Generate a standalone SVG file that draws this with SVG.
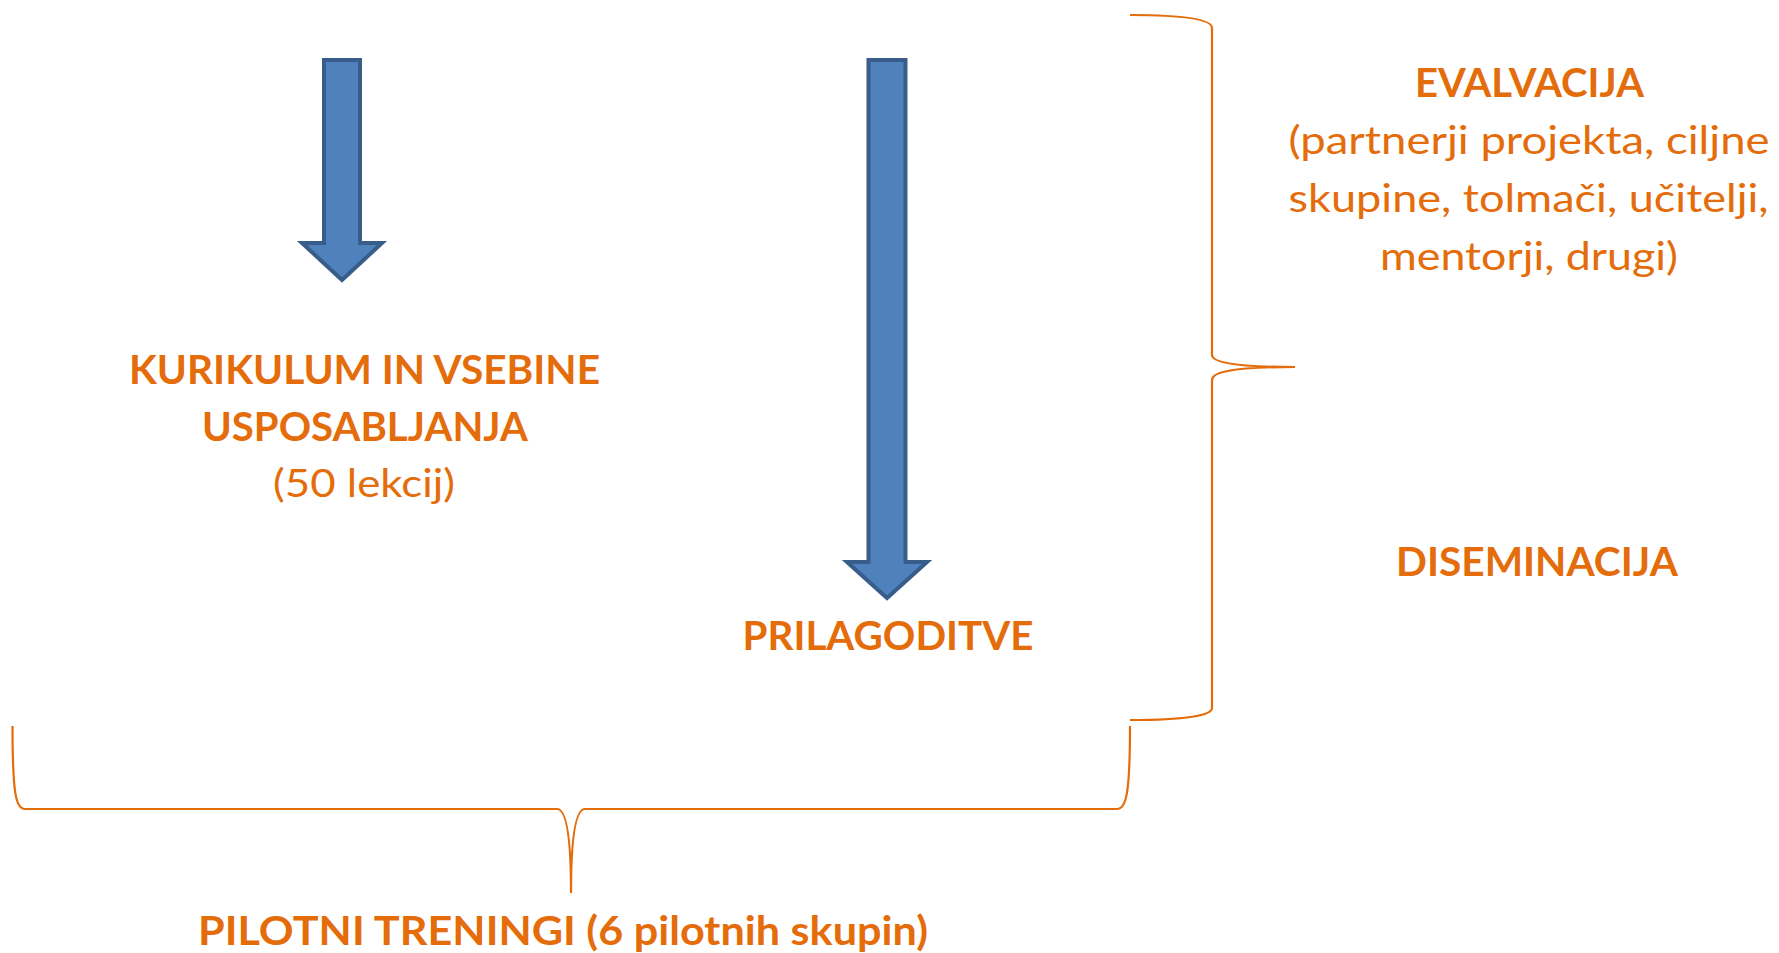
<svg xmlns="http://www.w3.org/2000/svg" width="1779" height="953" viewBox="0 0 1779 953">
<style>
.t{fill:#E46C0A;font-family:Lato,"Open Sans","Liberation Sans",sans-serif;font-size:39px}
.b{font-weight:bold;font-size:40px}
.arrow{fill:#4F81BD;stroke:#385D8A;stroke-width:4;stroke-linejoin:miter}
.brace{fill:none;stroke:#E46C0A;stroke-width:2.2}
</style>
<rect width="1779" height="953" fill="#FFFFFF"/>
<g id="arrow-left">
<path class="arrow" d="M324,60 H360 V243 H382 L342,280 L302,243 H324 Z"/>
</g>
<g id="arrow-right">
<path class="arrow" d="M868.5,60 H905.5 V562 H927 L887,598 L847,562 H868.5 Z"/>
</g>
<g id="connectors">
<path class="brace" d="M1130,15 C1182,15 1212,19 1212,28 V355 C1212,363 1240,367 1295,367 C1240,367 1212,371 1212,380 V708 C1212,716 1182,720 1130,720"/>
<path class="brace" d="M12.5,726 C12.5,795 16,809 25,809 H557 C566,809 571,835 571,893 C571,835 576,809 585,809 H1117 C1126,809 1130,795 1130,726"/>
</g>
<g id="evalvacija">
<text class="t b" x="1415" y="96.5" textLength="229" lengthAdjust="spacingAndGlyphs">EVALVACIJA</text>
<text class="t" x="1288.5" y="153.5" textLength="481" lengthAdjust="spacingAndGlyphs">(partnerji projekta, ciljne</text>
<text class="t" x="1288.5" y="211.5" textLength="480" lengthAdjust="spacingAndGlyphs">skupine, tolmači, učitelji,</text>
<text class="t" x="1380" y="270" textLength="298" lengthAdjust="spacingAndGlyphs">mentorji, drugi)</text>
</g>
<g id="diseminacija">
<text class="t b" x="1396" y="575.5" textLength="282" lengthAdjust="spacingAndGlyphs">DISEMINACIJA</text>
</g>
<g id="kurikulum">
<text class="t b" x="129" y="383.5" textLength="471" lengthAdjust="spacingAndGlyphs">KURIKULUM IN VSEBINE</text>
<text class="t b" x="202" y="440.5" textLength="326" lengthAdjust="spacingAndGlyphs">USPOSABLJANJA</text>
<text class="t" x="273" y="497" textLength="182" lengthAdjust="spacingAndGlyphs">(50 lekcij)</text>
</g>
<g id="prilagoditve">
<text class="t b" x="742.5" y="650" textLength="291" lengthAdjust="spacingAndGlyphs">PRILAGODITVE</text>
</g>
<g id="pilotni">
<text class="t b" x="198" y="945" textLength="730" lengthAdjust="spacingAndGlyphs">PILOTNI TRENINGI (6 pilotnih skupin)</text>
</g>
</svg>
